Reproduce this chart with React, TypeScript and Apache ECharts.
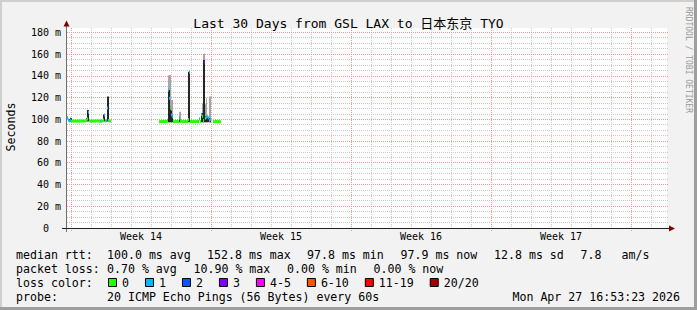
import React, { useEffect, useRef } from "react";
import * as echarts from "echarts";

const MONO = "'DejaVu Sans Mono', 'Noto Sans CJK SC', monospace";

// ---------- text ----------
const titleText = "Last 30 Days from GSL LAX to 日本东京 TYO";
const yAxisTitle = "Seconds";
const watermarkText = "RRDTOOL / TOBI OETIKER";

const rttLegend = ["median rtt:", "100.0 ms avg", "152.8 ms max", "97.8 ms min", "97.9 ms now", "12.8 ms sd", "7.8", "am/s"];
const lossLegend = ["packet loss:", "0.70 % avg", "10.90 % max", "0.00 % min", "0.00 % now"];
const lossColorTitle = "loss color:";
const probeLegend = ["probe:", "20 ICMP Echo Pings (56 Bytes) every 60s"];
const timestampText = "Mon Apr 27 16:53:23 2026";

// ---------- scales ----------
const rangeHours = 720; // 30 days
const stepHours = 1.2; // one consolidated row
const yMax = 184.2; // ms
const yTickValues = [0, 20, 40, 60, 80, 100, 120, 140, 160, 180];
const weekLabelHours = [88.8, 256.8, 424.8, 592.8];
const weekLabels = ["Week 14", "Week 15", "Week 16", "Week 17"];
const firstMidnightHour = 4.8;
const dayHours = 24;
const daysPerWeek = 7;
const minorYStep = 5;
const majorYStep = 20;

// ---------- loss buckets ----------
const lossBucketLabels = ["0", "1", "2", "3", "4-5", "6-10", "11-19", "20/20"];
const lossBucketColors = ["#26ff00", "#00b8ff", "#0059ff", "#7e00ff", "#ff00ff", "#ff5500", "#ff0000", "#a00000"];

// ---------- data (median rtt in ms, lost pings of 20) ----------
const seg1StartHour = 0;
const seg1Median = [
  101.5, 99.5, 98.6, 99.2, 98.4, 98.5, 98.3, 98.5, 98.6, 98.4,
  98.5, 98.5, 98.3, 98.5, 98.6, 98.5, 98.4, 98.5, 98.5, 99.0,
  100.5, 106.5, 98.8, 98.5, 98.4, 98.5, 98.6, 98.5, 98.3, 98.5,
  98.5, 98.6, 98.4, 98.6, 98.4, 98.5, 99.5, 104.0, 98.6, 98.7,
  110.5, 99.0, 98.5, 98.5,
];
const seg1Loss = [
  1, 1, 1, 1, 0, 0, 0, 0, 0, 0,
  0, 0, 0, 0, 0, 0, 0, 0, 0, 0,
  0, 1, 0, 0, 0, 0, 0, 0, 0, 0,
  0, 0, 0, 1, 0, 0, 0, 1, 0, 1,
  1, 0, 0, 0,
];

const seg2StartHour = 110.4;
const seg2Median: (number | null)[] = [
  97.9, 98.0, 97.9, 98.0, 98.1, 97.9, 98.0, 98.0, 98.5, 127.0,
  119.5, 110.5, 104.0, 102.5, 98.0, 97.9, 98.0, 98.1, 98.0, 97.9,
  101.0, 98.5, 98.0, 97.9, 98.0, 98.0, 98.1, 97.9, 98.0, 100.0,
  143.5, 98.0, 98.1, 97.9, 98.0, 98.0, 97.9, 98.0, 98.1, 98.0,
  100.5, 98.2, 104.5, 103.0, 99.0, 152.8, 101.0, 102.0, 102.5, 101.5,
  99.0, 100.0, null, null, 98.0, 97.9, 98.0, 98.0, 97.9, 98.0,
  97.9, 97.9,
];
const seg2Loss = [
  0, 0, 0, 0, 0, 0, 0, 0, 0, 1,
  1, 0, 1, 1, 0, 0, 0, 0, 0, 0,
  1, 0, 0, 0, 0, 0, 0, 0, 0, 0,
  1, 0, 0, 0, 0, 0, 0, 0, 0, 0,
  1, 0, 1, 0, 0, 3, 0, 1, 1, 1,
  1, 1, 0, 0, 0, 0, 0, 0, 0, 0,
  0, 0,
];

// smoke (spread of the 20 pings) where visible
const smokeHours = [2.4, 3.6, 4.8, 22.8, 24.0, 25.2, 43.2, 44.4, 48.0, 49.2, 120.0, 121.2, 122.4, 123.6, 124.8, 126.0, 134.4, 135.6, 145.2, 146.4, 160.8, 162.0, 163.2, 164.4, 165.6, 166.8, 168.0, 169.2, 170.4, 171.6];
const smokeLow = [98, 98, 98, 98, 98, 98, 98, 98, 98, 98, 97.5, 97.5, 97.5, 97.5, 97.5, 97.5, 97.5, 97.5, 97.5, 97.5, 97.5, 97.5, 97.5, 97.5, 97.5, 97.5, 97.5, 97.5, 97.5, 97.5];
const smokeDarkHigh = [100.5, 101.5, 101, 101, 108.6, 108.6, 104.5, 104.5, 121, 121, 100, 127, 127, 112, 108, 104, 101, 100, 144, 144, 105.6, 106, 154.7, 154.7, 103, 103, 102, 102, 101, 101];
const smokeLightHigh: (number | null)[] = [null, null, null, null, null, null, null, null, null, null, null, 140.5, 141, 141, 118, 118, 107, 107, null, null, null, 114.8, 160, 160.8, 114, 119.4, null, null, 121, 121];

function lossBucket(n: number) {
  if (n <= 3) return n;
  if (n <= 5) return 4;
  if (n <= 10) return 5;
  if (n <= 19) return 6;
  return 7;
}

export default function App() {
  const ref = useRef<HTMLDivElement>(null);

  useEffect(() => {
    const el = ref.current!;
    const chart = echarts.init(el, undefined, { renderer: "svg" });

    const medianData: number[][] = [];
    const addSeg = (start: number, med: (number | null)[], loss: number[]) => {
      med.forEach((m, i) => {
        if (m == null) return;
        medianData.push([start + i * stepHours, m, lossBucket(loss[i])]);
      });
    };
    addSeg(seg1StartHour, seg1Median, seg1Loss);
    addSeg(seg2StartHour, seg2Median, seg2Loss);

    const smokeDark = smokeHours.map((t, i) => [t, smokeLow[i], smokeDarkHigh[i]]);
    const smokeLight: number[][] = [];
    smokeHours.forEach((t, i) => {
      const h = smokeLightHigh[i];
      if (h != null) smokeLight.push([t, smokeLow[i], h]);
    });

    // grid lines: [x, y, kind] kind 0 minor vertical, 1 major vertical, 2 minor horizontal, 3 major horizontal
    const minorLines: number[][] = [];
    const majorLines: number[][] = [];
    for (let k = 0; firstMidnightHour + k * dayHours < rangeHours; k++) {
      const h = firstMidnightHour + k * dayHours;
      if (k % daysPerWeek === 0) majorLines.push([h, 0, 1]);
      else minorLines.push([h, 0, 0]);
    }
    for (let v = minorYStep; v < yMax; v += minorYStep) {
      if (v % majorYStep === 0) majorLines.push([0, v, 3]);
      else minorLines.push([0, v, 2]);
    }
    const gridLineData = minorLines.concat(majorLines);

    const renderGrid = (params: any, api: any) => {
      const cs = params.coordSys;
      const kind = api.value(2);
      const major = kind === 1 || kind === 3;
      const style = { stroke: major ? "#eb9a9a" : "#c9c9c9", lineWidth: 1, lineDash: [1, 1] };
      if (kind < 2) {
        const px = Math.floor(api.coord([api.value(0), 0])[0] + 0.01) + 0.5;
        return { type: "line", shape: { x1: px, y1: cs.y, x2: px, y2: cs.y + cs.height + (major ? 4 : 0) }, style };
      }
      const py = Math.floor(api.coord([0, api.value(1)])[1] + 0.01) + 0.5;
      return { type: "line", shape: { x1: cs.x, y1: py, x2: cs.x + cs.width + 2, y2: py }, style };
    };

    const renderSmoke = (color: string) => (_p: any, api: any) => {
      const t = api.value(0);
      const a = api.coord([t, api.value(2)]);
      const b = api.coord([t + stepHours, api.value(1)]);
      return { type: "rect", shape: { x: a[0], y: a[1], width: b[0] - a[0], height: b[1] - a[1] }, style: { fill: color } };
    };

    const renderMedian = (_p: any, api: any) => {
      const t = api.value(0);
      const m = api.value(1);
      const a = api.coord([t, m]);
      const b = api.coord([t + stepHours, m]);
      return { type: "rect", shape: { x: a[0], y: a[1] - 1.5, width: b[0] - a[0], height: 3 }, style: { fill: lossBucketColors[api.value(2)] } };
    };

    const txt = (text: string, x: number, y: number, size: number, extra: any = {}) => ({
      type: "text",
      x,
      y,
      z: 5,
      silent: true,
      ...extra,
      style: {
        text,
        fill: extra.fill || "#000",
        fontFamily: MONO,
        fontSize: size,
        textAlign: extra.align || "left",
        textVerticalAlign: "middle",
      },
    });

    const LEG = 11.6;
    const charW = LEG * 0.602;
    const row1X = [16, 107, 207, 307, 400.5, 494, 580.5, 621.5];
    const row2X = [16, 107, 193.5, 287, 373.5];
    const graphics: any[] = [
      { type: "rect", shape: { x: 0, y: 0, width: 697, height: 2 }, style: { fill: "#cfcfcf" }, z: 0, silent: true },
      { type: "rect", shape: { x: 0, y: 0, width: 2, height: 310 }, style: { fill: "#cfcfcf" }, z: 0, silent: true },
      { type: "rect", shape: { x: 694, y: 0, width: 3, height: 310 }, style: { fill: "#9e9e9e" }, z: 0, silent: true },
      { type: "rect", shape: { x: 0, y: 307, width: 697, height: 3 }, style: { fill: "#9e9e9e" }, z: 0, silent: true },
      // axes
      { type: "line", shape: { x1: 66.5, y1: 26, x2: 66.5, y2: 232 }, style: { stroke: "#6f6f6f", lineWidth: 1 }, z: 2, silent: true },
      { type: "line", shape: { x1: 62, y1: 228.5, x2: 670, y2: 228.5 }, style: { stroke: "#202020", lineWidth: 1 }, z: 2, silent: true },
      { type: "polygon", shape: { points: [[63.5, 26.5], [66.5, 20.5], [69.5, 26.5]] }, style: { fill: "#7f0000" }, z: 2, silent: true },
      { type: "polygon", shape: { points: [[669, 225.5], [675, 228.5], [669, 231.5]] }, style: { fill: "#7f0000" }, z: 2, silent: true },
      txt(yAxisTitle, 10.5, 127, LEG, { rotation: Math.PI / 2, align: "center" }),
      txt(watermarkText, 688.5, 60, 8, { rotation: -Math.PI / 2, align: "center", fill: "#9a9a9a" }),
    ];
    rttLegend.forEach((s, i) => graphics.push(txt(s, row1X[i], 255, LEG)));
    lossLegend.forEach((s, i) => graphics.push(txt(s, row2X[i], 268.5, LEG)));
    graphics.push(txt(lossColorTitle, 16, 282.5, LEG));
    let pos = 108;
    lossBucketLabels.forEach((lab, i) => {
      graphics.push({ type: "rect", shape: { x: pos + 0.5, y: 278.5, width: 8, height: 8 }, style: { fill: lossBucketColors[i], stroke: "#000", lineWidth: 1 }, z: 5, silent: true });
      graphics.push(txt(lab, pos + 14, 282.5, LEG));
      pos = pos + 14 + lab.length * charW + 16;
    });
    graphics.push(txt(probeLegend[0], 16, 296.5, LEG));
    graphics.push(txt(probeLegend[1], 107, 296.5, LEG));
    graphics.push(txt(timestampText, 680, 296.5, LEG, { align: "right" }));

    chart.setOption({
      animation: false,
      backgroundColor: "#f2f2f2",
      title: {
        text: titleText,
        left: "center",
        top: 12,
        textStyle: { fontFamily: MONO, fontSize: 13, fontWeight: "normal", color: "#000" },
      },
      grid: { left: 67, top: 28, width: 600, height: 200, show: true, backgroundColor: "#ffffff", borderWidth: 0 },
      xAxis: {
        type: "value",
        min: 0,
        max: rangeHours,
        axisLine: { show: false },
        axisTick: { show: false },
        splitLine: { show: false },
        axisLabel: {
          customValues: weekLabelHours,
          margin: 3,
          fontFamily: MONO,
          fontSize: 10,
          color: "#000",
          formatter: (v: number) => {
            const i = weekLabelHours.findIndex((h) => Math.abs(h - v) < 0.01);
            return i >= 0 ? weekLabels[i] : "";
          },
        },
      },
      yAxis: {
        type: "value",
        min: 0,
        max: yMax,
        axisLine: { show: false },
        axisTick: { show: false },
        splitLine: { show: false },
        axisLabel: {
          customValues: yTickValues,
          margin: 6,
          fontFamily: MONO,
          fontSize: 10,
          color: "#000",
          formatter: (v: number) => (v === 0 ? "{z|0}" : `${v} m`),
          rich: { z: { padding: [0, 12, 0, 0], fontFamily: MONO, fontSize: 10, color: "#000" } },
        },
      },
      graphic: graphics,
      series: [
        { type: "custom", name: "grid", z: 1, silent: true, renderItem: renderGrid, data: gridLineData, encode: { x: 0, y: 1 } },
        { type: "custom", name: "smoke outer", z: 3, silent: true, renderItem: renderSmoke("#a6a6a6"), data: smokeLight, encode: { x: 0, y: [1, 2] } },
        { type: "custom", name: "smoke", z: 4, silent: true, renderItem: renderSmoke("#262626"), data: smokeDark, encode: { x: 0, y: [1, 2] } },
        { type: "custom", name: "median rtt", z: 5, silent: true, renderItem: renderMedian, data: medianData, encode: { x: 0, y: 1 } },
      ],
    });

    return () => chart.dispose();
  }, []);

  return <div ref={ref} style={{ position: "absolute", left: 0, top: 0, width: 697, height: 310 }} />;
}
